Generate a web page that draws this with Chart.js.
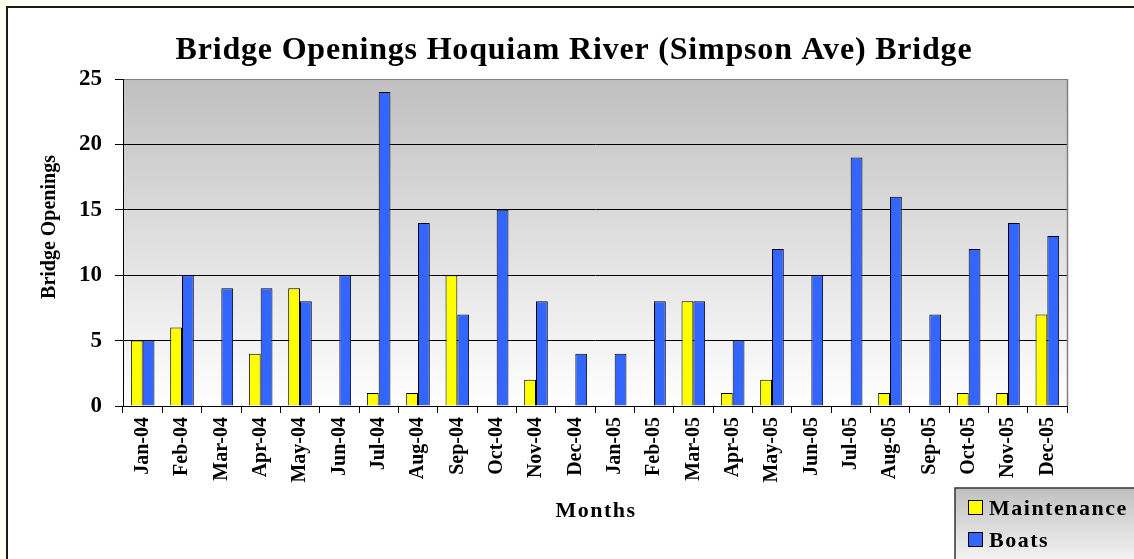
<!DOCTYPE html>
<html>
<head>
<meta charset="utf-8">
<script src="https://cdn.jsdelivr.net/npm/chart.js@4.4.1/dist/chart.umd.min.js"></script>
<style>
  html, body { margin: 0; padding: 0; background: #fffff2; }
  canvas { display: block; }
</style>
</head>
<body>
<canvas id="c" width="1134" height="559"></canvas>
<script>
const categories = ["Jan-04","Feb-04","Mar-04","Apr-04","May-04","Jun-04","Jul-04","Aug-04","Sep-04","Oct-04","Nov-04","Dec-04",
                    "Jan-05","Feb-05","Mar-05","Apr-05","May-05","Jun-05","Jul-05","Aug-05","Sep-05","Oct-05","Nov-05","Dec-05"];
const maintenance = [5,6,0,4,9,0,1,1,10,0,2,0,0,0,8,1,2,0,0,1,0,1,1,7];
const boats = [5,10,9,9,8,10,24,14,7,15,8,4,4,8,8,5,12,10,19,16,7,12,14,13];
const yTicks = [0,5,10,15,20,25];
const chartTitle = "Bridge Openings Hoquiam River (Simpson Ave) Bridge";
const yTitle = "Bridge Openings";
const xTitle = "Months";
const seriesNames = ["Maintenance","Boats"];
const seriesColors = ["#ffff00","#3366ff"];

const FONT = '"Liberation Serif", "Times New Roman", serif';

const decor = {
  id: 'decor',
  beforeDraw(chart) {
    const ctx = chart.ctx;
    const a = chart.chartArea;
    ctx.save();
    ctx.fillStyle = '#fffff2';
    ctx.fillRect(0, 0, chart.width, chart.height);
    ctx.fillStyle = '#ffffff';
    ctx.fillRect(7, 7, chart.width, chart.height);
    ctx.strokeStyle = '#1a1a1a';
    ctx.lineWidth = 2;
    ctx.strokeRect(7, 7, chart.width + 20, chart.height + 20);
    const g = ctx.createLinearGradient(0, a.top, 0, a.bottom);
    g.addColorStop(0, '#c0c0c0');
    g.addColorStop(1, '#ffffff');
    ctx.fillStyle = g;
    ctx.fillRect(a.left, a.top, a.right - a.left, a.bottom - a.top);
    ctx.restore();
  },
  afterDraw(chart) {
    const ctx = chart.ctx;
    const a = chart.chartArea;
    ctx.save();
    // right border
    ctx.strokeStyle = '#808080';
    ctx.lineWidth = 1.5;
    ctx.beginPath();
    ctx.moveTo(a.right + 0.5, a.top);
    ctx.lineTo(a.right + 0.5, a.bottom);
    ctx.stroke();
    // title
    ctx.fillStyle = '#000';
    ctx.textAlign = 'center';
    ctx.textBaseline = 'alphabetic';
    ctx.font = 'bold 32px ' + FONT;
    ctx.letterSpacing = '0.8px';
    ctx.fillText(chartTitle, 574, 59);
    // x title
    ctx.font = 'bold 22px ' + FONT;
    ctx.letterSpacing = '1.5px';
    ctx.fillText(xTitle, 596, 517);
    ctx.letterSpacing = '0px';
    // y title
    ctx.save();
    ctx.translate(55, 227);
    ctx.rotate(-Math.PI / 2);
    ctx.font = 'bold 20px ' + FONT;
    ctx.fillText(yTitle, 0, 0);
    ctx.restore();
    // legend box
    const lx = 955, ly = 488;
    const lg = ctx.createLinearGradient(0, ly, 0, chart.height);
    lg.addColorStop(0, '#c0c0c0');
    lg.addColorStop(1, '#f2f2f2');
    ctx.fillStyle = lg;
    ctx.fillRect(lx, ly, chart.width - lx + 10, chart.height - ly + 10);
    ctx.strokeStyle = '#333';
    ctx.lineWidth = 1.5;
    ctx.strokeRect(lx, ly, chart.width - lx + 10, chart.height - ly + 10);
    const rows = [515, 547];
    ctx.font = 'bold 22px ' + FONT;
    ctx.textAlign = 'left';
    ctx.letterSpacing = '1.5px';
    for (let i = 0; i < seriesNames.length; i++) {
      ctx.fillStyle = seriesColors[i];
      ctx.fillRect(968.5, rows[i] - 14.5, 14, 14);
      ctx.strokeStyle = '#000';
      ctx.lineWidth = 1;
      ctx.strokeRect(968.5, rows[i] - 14.5, 14, 14);
      ctx.fillStyle = '#000';
      ctx.fillText(seriesNames[i], 989, rows[i]);
    }
    ctx.restore();
  }
};

new Chart(document.getElementById('c'), {
  type: 'bar',
  data: {
    labels: categories,
    datasets: [
      { label: seriesNames[0], data: maintenance, backgroundColor: seriesColors[0], borderColor: '#000', borderWidth: 1 },
      { label: seriesNames[1], data: boats, backgroundColor: seriesColors[1], borderColor: '#000', borderWidth: 1 }
    ]
  },
  options: {
    responsive: false,
    animation: false,
    devicePixelRatio: 1,
    categoryPercentage: 0.6,
    barPercentage: 1.0,
    layout: { padding: { top: 79, right: 67, left: 0, bottom: 0 } },
    plugins: { legend: { display: false }, title: { display: false }, tooltip: { enabled: false } },
    scales: {
      x: {
        afterFit(s) { s.height = 153; },
        grid: { offset: true, drawOnChartArea: false, color: '#000', tickLength: 7 },
        border: { color: '#000', width: 1 },
        ticks: {
          maxRotation: 90, minRotation: 90, autoSkip: false, padding: 4,
          color: '#000', font: { family: FONT, size: 20, weight: 'bold' }
        }
      },
      y: {
        min: 0, max: 25,
        afterFit(s) { s.width = 123; },
        afterBuildTicks(s) { s.ticks = yTicks.map(v => ({ value: v })); },
        grid: {
          color: ctx => (ctx.tick && ctx.tick.value === 25) ? '#808080' : '#000',
          tickColor: '#000',
          tickLength: 8, lineWidth: 1
        },
        border: { color: '#000', width: 1 },
        ticks: {
          stepSize: 5, padding: 13, color: '#000',
          font: { family: FONT, size: 23, weight: 'bold' }
        }
      }
    }
  },
  plugins: [decor]
});
</script>
</body>
</html>
